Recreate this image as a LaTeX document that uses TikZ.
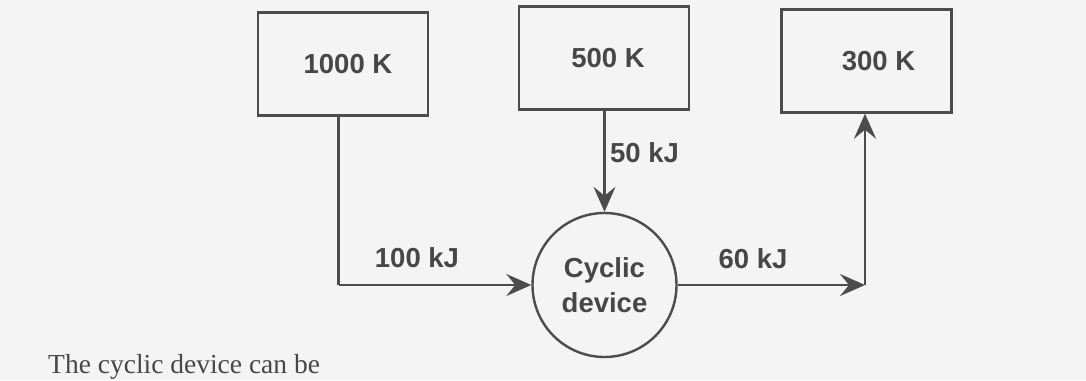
\documentclass[tikz,border=0pt]{standalone}
\usepackage{fontspec}
\setmainfont{Liberation Sans}
\newfontfamily\myserif{Liberation Serif}
\usetikzlibrary{arrows.meta,calc}
\definecolor{bg}{HTML}{F4F4F5}
\definecolor{ink}{HTML}{4C4C4C}
\definecolor{txt}{HTML}{474747}
\tikzset{
  resbox/.style={draw=ink, line width=2.4pt, rectangle, minimum width=170pt, minimum height=103pt, inner sep=0pt,
    text=txt, font=\fontsize{27.5}{34}\selectfont\bfseries},
  devnode/.style={draw=ink, line width=2.4pt, circle, minimum size=144pt, inner sep=0pt, align=center,
    text=txt, font=\fontsize{27.5}{35}\selectfont\bfseries},
  flow/.style={draw=ink, line width=2.4pt, -{Stealth[length=25pt, width=22pt, inset=9pt]}},
  plain/.style={draw=ink, line width=2.4pt},
  lbl/.style={text=txt, font=\fontsize{27.5}{34}\selectfont\bfseries, inner sep=0pt}
}
\begin{document}
\begin{tikzpicture}[x=1pt, y=-1pt]
\fill[bg] (0,0) rectangle (1086,380);
\useasboundingbox (0,0) rectangle (1086,380);
\node[resbox] (b1000) at (343,64) {\hspace*{10pt}1000 K};
\node[resbox] (b500) at (604,58) {\hspace*{8pt}500 K};
\node[resbox] (b300) at (866.5,61) {\hspace*{24pt}300 K};
\node[devnode] (dev) at (604.5,285) {Cyclic\\device};
\coordinate (c1) at (338.5,285);
\coordinate (c2) at (865,285);
\draw[plain] (c1 |- b1000.south) -- (c1);
\draw[flow] (c1) -- (dev.west);
\draw[flow] (dev.north |- b500.south) -- (dev.north);
\draw[flow] (dev.east) -- (c2);
\draw[flow] (c2) -- (c2 |- b300.south);
\node[lbl] (l100) at (417,258) {100 kJ};
\node[lbl] (l60) at (753,259) {60 kJ};
\node[lbl, anchor=west] (l50) at (610,153) {50 kJ};
\node[anchor=base west, inner sep=0pt, text=txt, font=\myserif\fontsize{27.5}{32}\selectfont] (q) at (48,373) {The cyclic device can be};
\end{tikzpicture}
\end{document}
